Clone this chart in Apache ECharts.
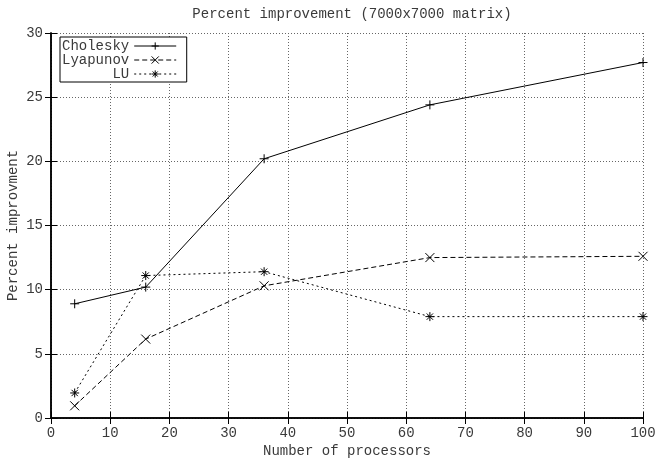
<!DOCTYPE html>
<html>
<head>
<meta charset="utf-8">
<script src="https://cdn.jsdelivr.net/npm/echarts@6/dist/echarts.min.js"></script>
<style>html,body{margin:0;padding:0;background:#fff}#c{width:655px;height:462px}</style>
</head>
<body>
<div id="c"></div>
<script>
const processors = [4, 16, 36, 64, 100];
const cholesky = [8.9, 10.2, 20.2, 24.4, 27.7];
const lyapunov = [0.95, 6.15, 10.3, 12.5, 12.6];
const lu = [1.95, 11.1, 11.4, 7.9, 7.9];
const seriesNames = ['Cholesky', 'Lyapunov', 'LU'];
const titleText = 'Percent improvement (7000x7000 matrix)';
const xName = 'Number of processors';
const yName = 'Percent improvment';

const FONT = '"Liberation Mono", "DejaVu Sans Mono", monospace';
const FS = 14;
const TXT = '#3a3a3a';
const pair = vals => processors.map((p, i) => [p, vals[i]]);

const plusPath = 'path://M0,5L10,5M5,0L5,10';
const crossPath = 'path://M0,0L10,10M10,0L0,10';
const starPath = 'path://M0,5L10,5M5,0L5,10M1.5,1.5L8.5,8.5M8.5,1.5L1.5,8.5';

function mkSeries(name, vals, sym, size, lineType) {
  return {
    name: name, type: 'line', data: pair(vals),
    symbol: sym, symbolSize: size, showSymbol: true,
    clip: false, animation: false,
    lineStyle: {color: '#000', width: 1, type: lineType},
    itemStyle: {color: '#000', borderColor: '#000', borderWidth: 1},
    emphasis: {disabled: true},
    z: 5
  };
}

const axisCommon = {
  axisLine: {show: true, lineStyle: {color: '#000', width: 1.5}},
  axisTick: {show: true, inside: true, length: 6, lineStyle: {color: '#000', width: 1}},
};

const chart = echarts.init(document.getElementById('c'), null, {renderer: 'canvas'});
chart.setOption({
  animation: false,
  backgroundColor: '#fff',
  textStyle: {fontFamily: FONT},
  title: {
    text: titleText, left: 347, top: 2, textAlign: 'center',
    textStyle: {fontFamily: FONT, fontSize: FS, fontWeight: 'normal', color: TXT}
  },
  grid: {left: 51, right: 12, top: 33, bottom: 44, containLabel: false, outerBoundsMode: 'none'},
  legend: {
    orient: 'vertical', left: 60, top: 37, align: 'right',
    itemWidth: 42, itemHeight: 9, itemGap: 0,
    backgroundColor: '#fff', borderColor: '#000', borderWidth: 1,
    padding: [2, 10, 1, 2],
    data: seriesNames,
    formatter: n => n.padStart(8, ' '),
    textStyle: {fontFamily: FONT, fontSize: FS, color: TXT, lineHeight: 13.5},
    lineStyle: {width: 1},
    itemStyle: {borderWidth: 1},
    selectedMode: false,
    z: 10
  },
  xAxis: [{
    type: 'value', min: 0, max: 100, interval: 10,
    name: xName, nameLocation: 'middle', nameGap: 26, nameMoveOverlap: false,
    nameTextStyle: {fontFamily: FONT, fontSize: FS, color: TXT},
    axisLabel: {fontFamily: FONT, fontSize: FS, color: TXT, margin: 8},
    splitLine: {show: true, lineStyle: {color: '#666', width: 1, type: [1, 2]}},
    ...axisCommon
  }, {
    type: 'value', position: 'top', min: 0, max: 100, interval: 10,
    axisLabel: {show: false}, splitLine: {show: false},
    ...axisCommon
  }],
  yAxis: [{
    type: 'value', min: 0, max: 30, interval: 5,
    name: yName, nameLocation: 'middle', nameGap: 31, nameMoveOverlap: false,
    nameTextStyle: {fontFamily: FONT, fontSize: FS, color: TXT},
    axisLabel: {fontFamily: FONT, fontSize: FS, color: TXT, margin: 8},
    splitLine: {show: true, lineStyle: {color: '#666', width: 1, type: [1, 2]}},
    ...axisCommon
  }, {
    type: 'value', position: 'right', min: 0, max: 30, interval: 5,
    axisLabel: {show: false}, splitLine: {show: false},
    ...axisCommon
  }],
  series: [
    mkSeries(seriesNames[0], cholesky, plusPath, 9, 'solid'),
    mkSeries(seriesNames[1], lyapunov, crossPath, 9, [5, 3]),
    mkSeries(seriesNames[2], lu, starPath, 9, [2, 3])
  ]
});
</script>
</body>
</html>
